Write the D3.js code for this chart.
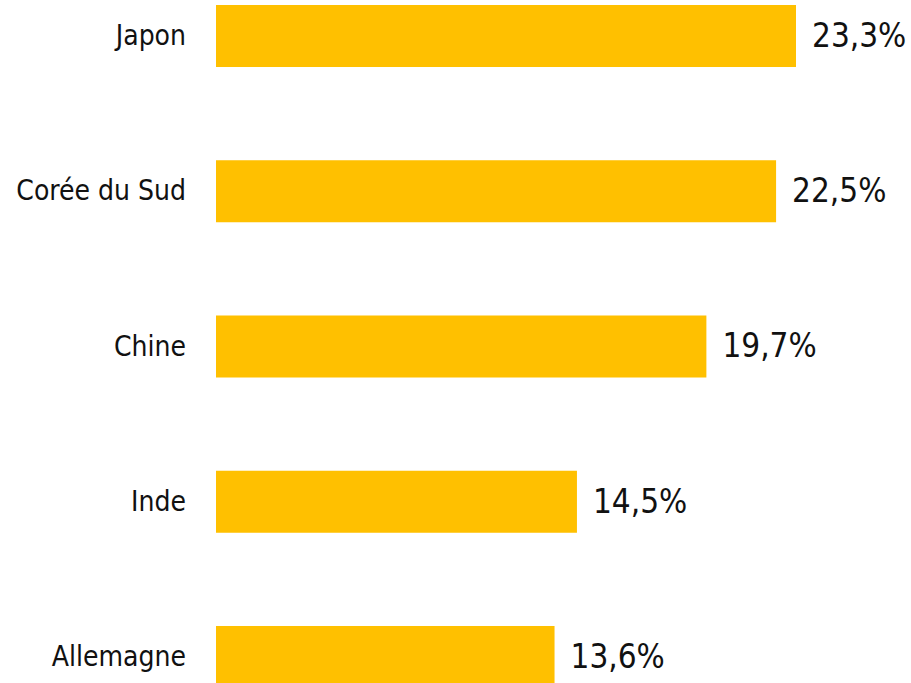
<!DOCTYPE html>
<html>
<head>
<meta charset="utf-8">
<script src="https://cdn.jsdelivr.net/npm/d3@7"></script>
<style>
  body { margin: 0; background: #fff; }
  svg text { font-family: "DejaVu Sans Condensed", "Liberation Sans Narrow", sans-serif; fill: #111; }
</style>
</head>
<body>
<div id="chart"></div>
<script>
// Values
const countries = ["Japon", "Corée du Sud", "Chine", "Inde", "Allemagne"];
const shares = [23.3, 22.5, 19.7, 14.5, 13.6];

const width = 911, height = 683;
const left = 216;

const svg = d3.select("#chart").append("svg")
  .attr("width", width)
  .attr("height", height);

// 0..23.3 maps to 216..796
const x = d3.scaleLinear().domain([0, 23.3]).range([left, 796]);

// bars 62px tall, one every ~155px, first starting at y=5
const y = d3.scaleBand()
  .domain(countries)
  .range([5, 688])
  .paddingInner(0.6006)
  .paddingOuter(0);

const rows = svg.selectAll("g.row")
  .data(countries.map((c, i) => ({ name: c, value: shares[i] })))
  .join("g")
  .attr("class", "row");

rows.append("rect")
  .attr("x", x(0))
  .attr("y", d => y(d.name))
  .attr("width", d => x(d.value) - x(0))
  .attr("height", y.bandwidth())
  .attr("fill", "#ffc000");

rows.append("text")
  .attr("x", left - 30)
  .attr("y", d => y(d.name) + y.bandwidth() / 2)
  .attr("dy", "0.33em")
  .attr("text-anchor", "end")
  .style("font-size", "28px")
  .text(d => d.name);

rows.append("text")
  .attr("x", d => x(d.value) + 16)
  .attr("y", d => y(d.name) + y.bandwidth() / 2)
  .attr("dy", "0.33em")
  .style("font-size", "33px")
  .text(d => d.value.toFixed(1).replace(".", ",") + "%");
</script>
</body>
</html>
